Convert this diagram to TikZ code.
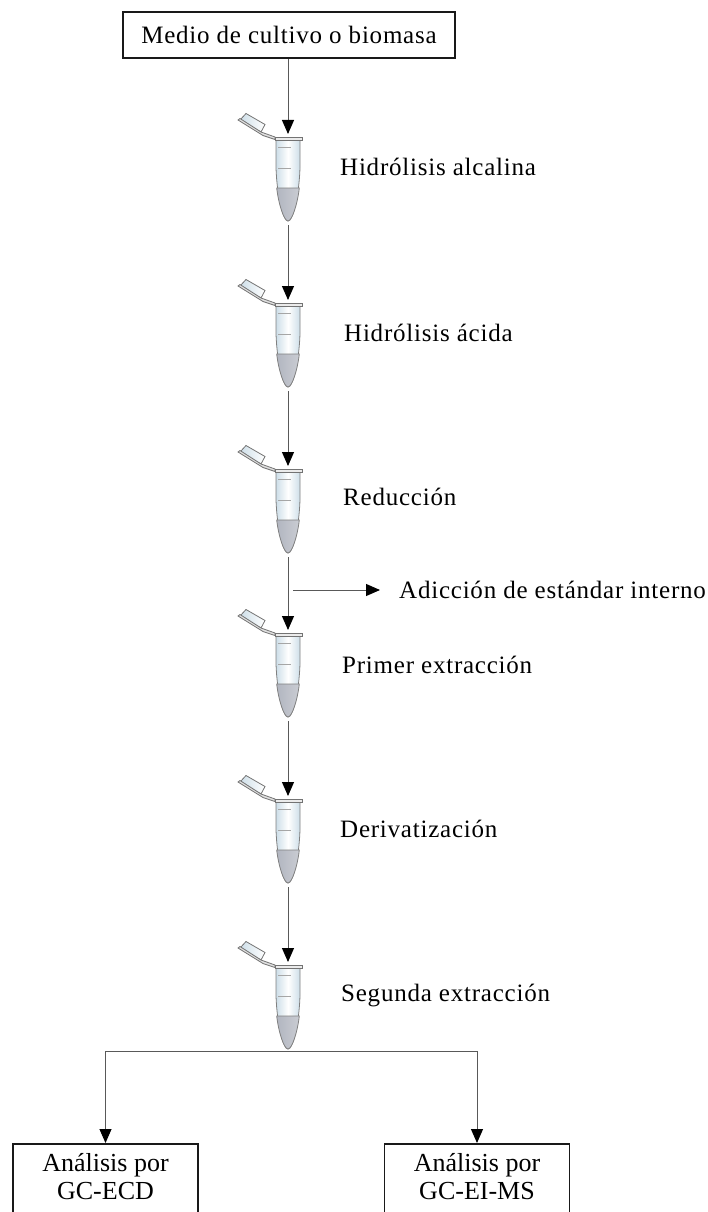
\documentclass[tikz,border=0pt]{standalone}
\usepackage{fontspec}
\setmainfont{Liberation Serif}
\newfontfamily\widefont[LetterSpace=3.1]{Liberation Serif}
\usetikzlibrary{arrows.meta}
\definecolor{tubeblue}{RGB}{205,222,232}
\definecolor{tubegray}{RGB}{178,182,192}
\tikzset{
 flow/.style={draw=black!65, line width=1pt, -{Triangle[length=14pt,width=12pt,color=black]}},
 boxnode/.style={draw=black!90, line width=1.6pt, fill=white, inner sep=0pt, align=center},
 endbox/.style={boxnode, anchor=north, minimum width=185pt, minimum height=72pt, text depth=7.5pt, font=\fontsize{26}{28}\selectfont},
 steplabel/.style={anchor=west, inner sep=0pt, font=\widefont\fontsize{25}{28}\selectfont},
 tube/.pic={
 % cap and hinge
 \shade[left color=tubeblue, right color=white, draw=black!55, line width=0.8pt] (-42,-24.5) -- (-23,-13.5) -- (-27,-6) -- (-48,-18) -- cycle;
 \fill[black!12, draw=black!55, line width=0.8pt] (-50,-18) -- (-48,-19.5) -- (-27,-6) -- (-13,-1) -- (-13,1.5) -- (-25,-2.5) -- cycle;
 % body
 \shade[left color=tubeblue, right color=tubeblue, middle color=white, draw=black!50, line width=0.8pt]
  (-12,0) -- (-12,30) .. controls (-11,58) and (-5,83) .. (0,83) .. controls (5,83) and (11,58) .. (12,30) -- (12,0) -- cycle;
 \shade[left color=tubegray, right color=tubegray!70, draw=black!50, line width=0.8pt]
  (-11.3,50) .. controls (-9.5,66) and (-4,83) .. (0,83) .. controls (4,83) and (9.5,66) .. (11.3,50) -- cycle;
 % rim and marks
 \fill[black!8, draw=black!55, line width=0.8pt] (-13,-1) rectangle (14,2);
 \draw[black!35, line width=0.8pt] (-10,9) -- (3,9) (-10,30) -- (3,30);
 \coordinate (-top) at (0,-4);
 \coordinate (-tip) at (0,87);
 }
}
\begin{document}
\begin{tikzpicture}[x=1pt, y=-1pt]
 \useasboundingbox (0,0) rectangle (707,1212);
 % tubes
 \pic (tubeA) at (288,138) {tube};
 \pic (tubeB) at (288,304) {tube};
 \pic (tubeC) at (288,470) {tube};
 \pic (tubeD) at (288,634) {tube};
 \pic (tubeE) at (288,800) {tube};
 \pic (tubeF) at (288,966) {tube};
 % boxes
 \node[boxnode, minimum width=332pt, minimum height=46pt, font=\widefont\fontsize{25}{28}\selectfont] (medio) at (289,35) {Medio de cultivo o biomasa};
 \node[endbox] (ecd) at (105.5,1143) {Análisis por\\GC-ECD};
 \node[endbox] (ms) at (477,1143) {Análisis por\\GC-EI-MS};
 % labels
 \node[steplabel] (lblA) at (340,167) {Hidrólisis alcalina};
 \node[steplabel] (lblB) at (344,333) {Hidrólisis ácida};
 \node[steplabel] (lblC) at (343,497) {Reducción};
 \node[steplabel] (lblAdd) at (399,590) {Adicción de estándar interno};
 \node[steplabel] (lblD) at (342,665) {Primer extracción};
 \node[steplabel] (lblE) at (340,829) {Derivatización};
 \node[steplabel] (lblF) at (341,995) {Segunda extracción};
 % arrows
 \draw[flow] (medio.south -| tubeA-top) -- (tubeA-top);
 \draw[flow] (tubeA-tip) -- (tubeB-top);
 \draw[flow] (tubeB-tip) -- (tubeC-top);
 \draw[flow] (tubeC-tip) -- (tubeD-top);
 \draw[flow] (tubeD-tip) -- (tubeE-top);
 \draw[flow] (tubeE-tip) -- (tubeF-top);
 \coordinate (addStart) at (293,590);
 \draw[flow] (addStart) -- ([xshift=-19pt]lblAdd.west);
 \coordinate (branch) at (288,1051);
 \draw[flow] (branch) -| (ecd.north);
 \draw[flow] (branch) -| (ms.north);
\end{tikzpicture}
\end{document}
